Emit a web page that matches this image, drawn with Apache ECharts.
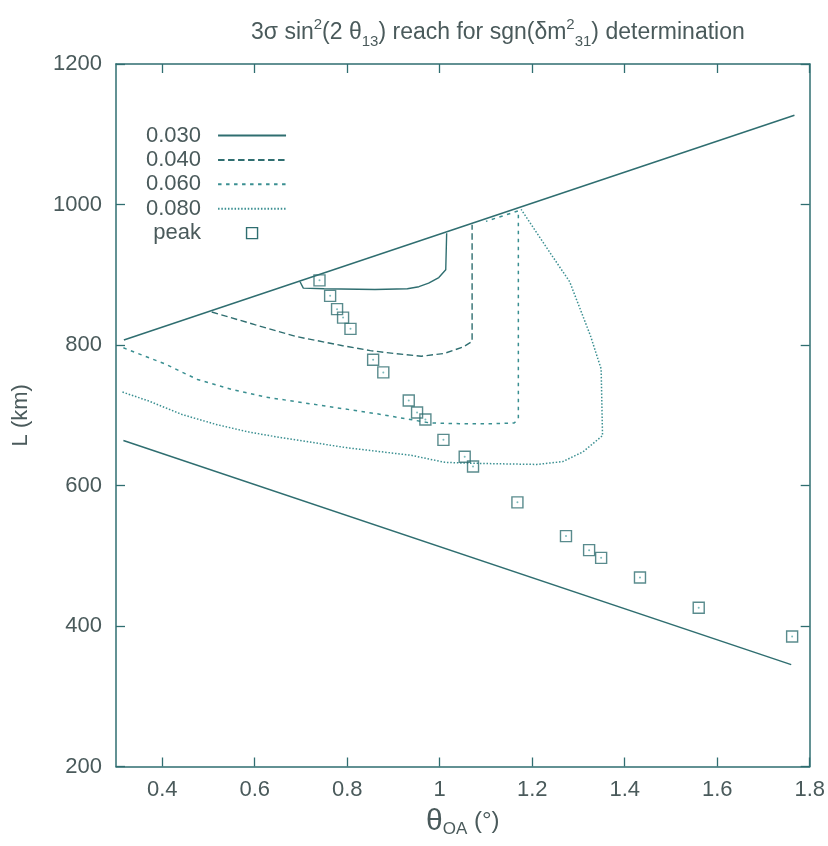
<!DOCTYPE html>
<html>
<head>
<meta charset="utf-8">
<script src="https://cdn.jsdelivr.net/npm/echarts@6/dist/echarts.min.js"></script>
<style>
  html, body { margin: 0; padding: 0; background: #ffffff; }
  #chart { width: 828px; height: 846px; }
</style>
</head>
<body>
<div id="chart"></div>
<script>
// Tick positions on the theta axis (labels start at 0.4, axis starts at 0.3)
const xTicks = [0.4, 0.6, 0.8, 1.0, 1.2, 1.4, 1.6, 1.8];

// Straight boundaries of the allowed (theta, L) region
const upperEdge = [[0.317, 807], [1.767, 1127]];
const lowerEdge = [[0.316, 664], [1.760, 345]];

// 3 sigma reach contours, sin^2(2 theta13) = 0.030 / 0.040 / 0.060 / 0.080
const c030 = [[0.698, 890], [0.705, 881], [0.75, 880], [0.86, 879], [0.93, 880], [0.955, 883],
              [0.976, 888], [0.998, 896], [1.013, 907], [1.015, 959]];
const c040 = [[0.507, 847], [0.60, 829], [0.69, 812], [0.79, 799], [0.85, 792], [0.90, 788],
              [0.96, 784], [1.01, 788], [1.05, 797], [1.07, 805], [1.07, 971]];
const c060 = [[0.316, 796], [0.406, 773], [0.476, 751], [0.549, 737], [0.622, 726], [0.693, 719],
              [0.794, 709], [0.865, 702], [0.936, 694], [0.979, 689], [1.043, 688], [1.116, 688],
              [1.161, 689], [1.170, 695], [1.170, 991], [1.100, 976]];
const c080 = [[0.314, 733], [0.372, 720], [0.443, 701], [0.516, 687], [0.588, 676], [0.658, 668],
              [0.796, 654], [0.938, 643], [1.011, 633], [1.049, 632], [1.118, 631], [1.210, 630],
              [1.266, 634], [1.310, 648], [1.352, 671], [1.349, 766], [1.326, 813], [1.281, 890],
              [1.243, 927], [1.176, 993]];

// Peak sensitivity points
const peaks = [[0.740, 892], [0.763, 870], [0.778, 851], [0.791, 839], [0.807, 823], [0.856, 779],
               [0.878, 761], [0.933, 721], [0.951, 704], [0.969, 694], [1.008, 665], [1.054, 641],
               [1.072, 627], [1.168, 576], [1.273, 528], [1.323, 508], [1.349, 497], [1.433, 469],
               [1.560, 426], [1.762, 385]];

const INK = '#2f6e70';
const DOT_INK = '#3a8f91';
const TEXT = '#4a5a5b';
const FONT = 'Liberation Sans, Arial, Helvetica, sans-serif';
const SQUARE = 'path://M0,0 L10,0 L10,10 L0,10 Z';

function contour(name, data, dash, width, color) {
  return {
    name: name, type: 'line', data: data, symbol: 'none', silent: true,
    lineStyle: { color: color || INK, width: width || 1.4, type: dash },
    itemStyle: { color: color || INK },
    z: 3
  };
}
function edge(data) {
  return {
    type: 'line', data: data, symbol: 'none', silent: true,
    lineStyle: { color: INK, width: 1.5, type: 'solid' }, z: 2
  };
}

const chart = echarts.init(document.getElementById('chart'), null, { renderer: 'canvas' });

chart.setOption({
  backgroundColor: '#ffffff',
  animation: false,
  title: {
    text: '3σ sin{sup|2}(2 θ{sub|13}) reach for sgn(δm{sup|2}{sub|31}) determination',
    left: 246, top: 12,
    textStyle: {
      fontFamily: FONT, fontSize: 23, fontWeight: 'normal', color: TEXT, lineHeight: 32,
      rich: {
        sup: { fontFamily: FONT, fontSize: 15, color: TEXT, lineHeight: 15, verticalAlign: 'top' },
        sub: { fontFamily: FONT, fontSize: 15, color: TEXT, lineHeight: 15, verticalAlign: 'bottom' }
      }
    }
  },
  legend: {
    orient: 'vertical', left: 141, top: 119, align: 'right',
    itemWidth: 68, itemHeight: 11, itemGap: 1.4,
    selectedMode: false,
    itemStyle: { opacity: 0 },
    textStyle: { fontFamily: FONT, fontSize: 22, color: TEXT, lineHeight: 23, padding: [0, 12, 0, 0] },
    data: ['0.030', '0.040', '0.060', '0.080',
      { name: 'peak', itemStyle: { opacity: 1, color: 'rgba(0,0,0,0)', borderColor: INK, borderWidth: 1.4 } }]
  },
  grid: { left: 116, right: 10.5, top: 64, bottom: 79.5, containLabel: false },
  xAxis: [{
    type: 'value', position: 'bottom', min: 0.3, max: 1.8,
    name: '{t|θ}{s|OA} (°)', nameLocation: 'middle', nameGap: 26,
    nameTextStyle: {
      fontFamily: FONT, fontSize: 24, color: TEXT, lineHeight: 32,
      rich: {
        t: { fontFamily: FONT, fontSize: 30, color: TEXT, lineHeight: 32 },
        s: { fontFamily: FONT, fontSize: 17, color: TEXT, lineHeight: 17, verticalAlign: 'bottom' }
      }
    },
    axisLine: { show: true, lineStyle: { color: INK, width: 1.5 } },
    axisTick: { show: true, inside: true, length: 9, customValues: xTicks, lineStyle: { color: INK, width: 1.3 } },
    axisLabel: { show: true, customValues: xTicks, fontFamily: FONT, fontSize: 22, color: TEXT, margin: 12 },
    splitLine: { show: false }
  }, {
    type: 'value', position: 'top', min: 0.3, max: 1.8,
    axisLine: { show: true, lineStyle: { color: INK, width: 1.5 } },
    axisTick: { show: true, inside: true, length: 9, customValues: xTicks, lineStyle: { color: INK, width: 1.3 } },
    axisLabel: { show: false },
    splitLine: { show: false }
  }],
  yAxis: [{
    type: 'value', position: 'left', min: 200, max: 1200, interval: 200,
    name: 'L (km)', nameLocation: 'middle', nameGap: 84, nameRotate: 90,
    nameTextStyle: { fontFamily: FONT, fontSize: 22, color: TEXT },
    axisLine: { show: true, lineStyle: { color: INK, width: 1.5 } },
    axisTick: { show: true, inside: true, length: 9, lineStyle: { color: INK, width: 1.3 } },
    axisLabel: { show: true, fontFamily: FONT, fontSize: 22, color: TEXT, margin: 14, formatter: v => String(v) },
    splitLine: { show: false }
  }, {
    type: 'value', position: 'right', min: 200, max: 1200, interval: 200,
    axisLine: { show: true, lineStyle: { color: INK, width: 1.5 } },
    axisTick: { show: true, inside: true, length: 9, lineStyle: { color: INK, width: 1.3 } },
    axisLabel: { show: false },
    splitLine: { show: false }
  }],
  series: [
    edge(upperEdge),
    edge(lowerEdge),
    contour('0.030', c030, 'solid', 1.4),
    contour('0.040', c040, [6.5, 3.5], 1.4),
    contour('0.060', c060, [3.5, 4.5], 1.5, DOT_INK),
    contour('0.080', c080, [1.5, 1.8], 1.5, DOT_INK),
    {
      name: 'peak', type: 'scatter', data: peaks, symbol: SQUARE, symbolSize: 11, silent: true,
      itemStyle: { color: 'rgba(0,0,0,0)', borderColor: INK, borderWidth: 1.4 }, z: 4
    },
    {
      type: 'scatter', data: peaks, symbol: 'circle', symbolSize: 2, silent: true,
      itemStyle: { color: '#5aa9aa' }, z: 4
    }
  ]
});
</script>
</body>
</html>
